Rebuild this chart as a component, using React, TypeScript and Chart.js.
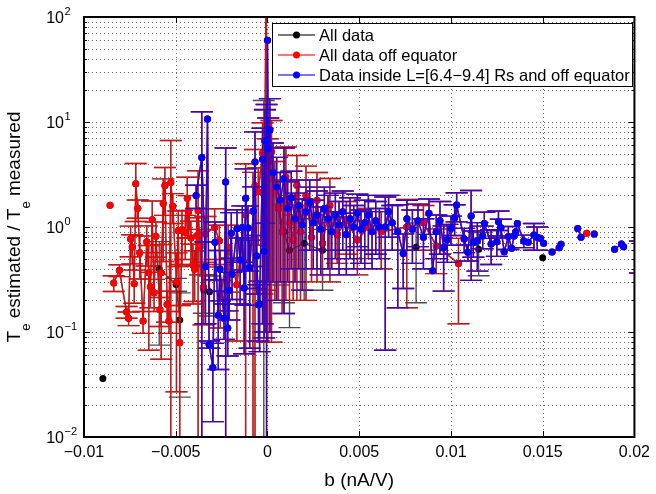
import React, { useEffect, useRef } from "react";
import { Chart, registerables } from "chart.js";

Chart.register(...registerables);

const FONT = '"Liberation Sans", Arial, Helvetica, sans-serif';

// ---------- axes / text ----------
const X_TICKS = [-0.01, -0.005, 0, 0.005, 0.01, 0.015, 0.02];
const X_TICK_LABELS = ["\u22120.01", "\u22120.005", "0", "0.005", "0.01", "0.015", "0.02"];
const Y_DECADES = [-2, -1, 0, 1, 2];
const Y_EXPONENT_LABELS = ["\u22122", "\u22121", "0", "1", "2"];
const X_TITLE = "b (nA/V)";
const Y_TITLE_PARTS: [string, boolean][] = [
  ["T", false], ["e", true], [" estimated / T", false], ["e", true], [" measured", false],
];
const SERIES_NAMES = ["All data", "All data off equator", "Data inside L=[6.4\u22129.4] Rs and off equator"];

// ---------- data (null = line break) ----------
// Blue: inside L=[6.4-9.4] Rs and off equator
const BLUE_X = [
  -0.00389, -0.00358, -0.00338, -0.00327, -0.00318, -0.00298, -0.00286, -0.00268, -0.00259, -0.00237,
  -0.00228, -0.00217, -0.00208, -0.00197, -0.00193, -0.00166, -0.00149, -0.00137, -0.00127, -0.00119,
  -0.00106, -0.00097, -0.00077, -0.00068, -0.00059, -0.00049, -0.00043, -0.00027, -0.00018, -0.00014,
  -0.00005, 0.0, 0.00004, 0.00013,
  0.0003, 0.0005, 0.0007, 0.0009, 0.0011, 0.0013, 0.0015, 0.0017, 0.0019, 0.0021, 0.0023, 0.0025,
  0.0027, 0.0029, 0.0031, 0.0033, 0.0035, 0.0037, 0.0039, 0.0041, 0.0043, 0.0045, 0.0047, 0.0049,
  0.0051, 0.0053, 0.0055, 0.0057, 0.0059, 0.0061, 0.00642, 0.0066, 0.0068, 0.0071, 0.0074, 0.0076,
  0.0079, 0.0082, 0.0085, 0.0088, 0.009, 0.0092, 0.0094, 0.0096, 0.0098, 0.01, 0.0102, 0.01031,
  0.01072, 0.01092, 0.0111, 0.01122, 0.01144, 0.01173, 0.01182, 0.01219, 0.0125, 0.01259, 0.01272,
  0.0129, 0.01313, 0.01331, 0.01344, 0.01353, 0.01362, 0.01397, 0.01421, 0.01452, 0.0147, 0.01488,
  0.01505, null, 0.01551, 0.0159, 0.016, null, 0.01691, 0.01709, null, 0.01781, null, 0.01892,
  0.01929, 0.01941, null, 0.0203,
];
const BLUE_Y = [
  2.0, 4.6, 0.42, 10.7, 0.076, 0.046, 0.715, 0.144, 0.398, 0.135,
  2.68, 0.109, 0.25, 0.87, 0.354, 0.96, 0.485, 0.99, 0.262, 1.88,
  0.98, 0.41, 1.42, 4.16, 0.53, 0.182, 0.185, 4.42, 0.588, 6.6,
  6.7, 60, 5.6, 8.4,
  3.3, 2.4, 1.8, 2.9, 1.5, 1.9, 1.2, 1.6, 1.05, 1.4, 1.7, 1.1,
  1.3, 0.95, 1.5, 1.2, 0.9, 1.3, 1.05, 1.4, 0.85, 1.2, 1.0, 1.35,
  0.95, 1.1, 1.3, 0.9, 1.15, 1.0, 1.0, 1.4, 1.1, 0.9, 0.56, 1.2,
  0.95, 1.15, 0.8, 1.35, 0.383, 0.9, 1.15, 0.635, 0.76, 0.97, 1.23, 1.62,
  0.77, 0.574, 1.27, 0.715, 0.74, 0.82, 1.08, 0.69, 0.725, 1.12, 0.985,
  0.582, 0.81, 0.627, 0.82, 0.9, 1.08, 0.736, 0.715, 0.84, 0.8, 0.78,
  0.7, null, 0.578, 0.635, 0.684, null, 0.97, 0.8, null, 0.86, null, 0.613,
  0.69, 0.65, null, 0.55,
];
const BLUE_ERR = [
  0.5, 7.9, 0.3, 0, 0.006, 0.032, 0.4, 0.1, 0.2, 0.05,
  2.97, 0.05, 0.12, 0.5, 0.15, 0.5, 0.3, 0.6, 0.2, 1.7,
  0.6, 0.34, 1.0, 3.9, 0.3, 0.1, 0.12, 4.3, 0.5, 6.5,
  8.0, 0, 5.3, 8.3,
  3.0, 2.2, 1.5, 2.75, 1.2, 1.5, 0.9, 1.2, 0.8, 1.0, 1.1, 0.7,
  0.9, 0.6, 0.9, 0.8, 0.5, 0.8, 0.7, 0.8, 0.5, 0.7, 0.6, 0.7,
  0.5, 0.7, 0.7, 0.5, 0.6, 0.5, 0.933, 0.6, 0.5, 0.73, 0.3, 0.6,
  0.5, 0.5, 0.4, 0.5, 0, 0.4, 0.6, 0.39, 0.3, 0.3, 0.4, 0.5,
  0.2, 0.1, 0.96, 0.2, 0.36, 0.2, 0.3, 0.25, 0.2, 0.3, 0.2,
  0, 0.2, 0, 0, 0, 0, 0.1, 0, 0.24, 0.2, 0,
  0, null, 0, 0, 0, null, 0, 0, null, 0, null, 0,
  0, 0, null, 0.185,
];

// Red: all data off equator (own points; blue points are also part of it)
const RED_X = [
  -0.00858, null,
  -0.00838, -0.00807, -0.00768, -0.00757, -0.00746, -0.00737, -0.00726, -0.00718, -0.00707, -0.00696,
  -0.00678, -0.00658, -0.00647, -0.00638, -0.00628, -0.00618, -0.00608, -0.00586, -0.00579, -0.00568,
  -0.00559, -0.00547, -0.00537, -0.00527, -0.00516, -0.00496, -0.00486, -0.00478, -0.00466, -0.00448,
  -0.00437, -0.0043, -0.00417, -0.00406, -0.00397, -0.00386, -0.00378, -0.00367, -0.00349, -0.00338,
  -0.00288, -0.00262, -0.00257, -0.00214, -0.00167, -0.00119, -0.00079, -0.00068, -0.0005, -0.00027,
  -0.00014, -0.00008, 0.00002, 0.00022, 0.0004, 0.0006, 0.0008, 0.001, 0.0012, 0.0014, 0.0016,
  0.0018, 0.0021, 0.0024, 0.0027, 0.003, 0.0034, 0.0038, 0.0043, 0.0049, 0.0055, 0.0062, 0.00759,
  0.0085, 0.0092, 0.01041, null, 0.0174,
];
const RED_Y = [
  1.61, null,
  0.293, 0.387, 0.155, 0.135, 0.77, 0.645, 0.288, 2.58, 1.51, 0.57,
  0.127, 0.725, 0.367, 0.27, 1.17, 0.237, 0.815, 0.163, 0.367, 1.67,
  2.49, 0.184, 0.127, 2.66, 1.58, 0.297, 0.92, 0.079, 0.94, 0.89,
  1.88, 1.39, 0.786, 0.435, 0.395, 0.826, 1.43, 0.65, 0.267, 0.86,
  0.99, 0.74, 0.209, 0.64, 0.282, 1.3, 1.41, 2.47, 2.17, 5.03,
  6.7, 200, 3.5, 5.2, 2.2, 1.5, 0.9, 3.0, 1.1, 0.75, 2.5,
  0.9, 2.0, 0.8, 1.8, 0.7, 1.6, 0.85, 1.15, 0.75, 1.0, 0.9, 1.0,
  1.1, 0.66, 0.45, null, 0.87,
];
const RED_ERR = [
  0, null,
  0.05, 0.05, 0.02, 0.02, 0.25, 0.2, 0.1, 1.45, 0.3, 0.25,
  0.03, 0.3, 0.3, 0.1, 0.6, 0.08, 0.3, 0.05, 0.312, 1.2,
  1.2, 0.06, 0.03, 4.0, 0.5, 0.27, 0.5, 0.1, 0.5, 0.4,
  1.1, 0.6, 0.35, 0.25, 0.2, 0.4, 2.0, 0.3, 0.15, 0.4,
  0.5, 0.3, 0.1, 0.4, 0.2, 2.7, 1.9, 3.0, 1.5, 4.8,
  6.45, 0, 3.42, 5.12, 2.0, 1.3, 0.75, 2.8, 0.9, 0.55, 2.3,
  0.7, 1.8, 0.5, 1.5, 0.4, 1.3, 0.4, 0.6, 0.4, 0.5, 0.5, 0.83,
  0.5, 0.3, 0.33, null, 0,
];

// Black: all data (own equatorial points; red and blue points are also part of it)
const BLACK_X = [
  -0.00897, null, -0.0059, -0.00498, -0.00478, null, -0.00347, -0.00316, null,
  -0.0002, 0.00004, 0.0006, 0.0009, 0.0012, 0.002, 0.003, null, 0.0081, null, 0.01151, null, 0.015,
];
const BLACK_Y = [
  0.036, null, 0.4, 0.284, 0.13, null, 0.251, 0.242, null,
  5.0, 4.18, 1.5, 0.9, 0.6, 0.7, 0.6, null, 0.64, null, 0.613, null, 0.51,
];
const BLACK_ERR = [
  0, null, 0.325, 0.04, 0.106, null, 0.1, 0.1, null,
  11.0, 0, 1.22, 0.71, 0.49, 0.5, 0.35, null, 0.45, null, 0.27, null, 0,
];

// ---------- styles ----------
const LINE_COLORS = ["rgba(0,0,0,0.7)", "rgba(255,0,0,0.72)", "rgba(0,0,255,0.72)"];
const MARKER_COLORS = ["#000000", "#ff0000", "#0000ff"];
const LINE_W = 1.4;
const CAP_HALF = 11;
const MARKER_R = 3.5;

type Pt = { x: number; y: number | null; e: number };

function toPoints(xs: (number | null)[], ys: (number | null)[], es: (number | null)[]): Pt[] {
  const out: Pt[] = [];
  let lastX = 0;
  xs.forEach((x, i) => {
    if (x === null || ys[i] === null) {
      out.push({ x: lastX, y: null, e: 0 });
    } else {
      lastX = x;
      out.push({ x, y: ys[i] as number, e: (es[i] as number) || 0 });
    }
  });
  return out;
}

const gridPlugin = {
  id: "matlabGrid",
  beforeDatasetsDraw(chart: any) {
    const { ctx, chartArea: a, scales } = chart;
    const xs = scales.x, ys = scales.y;
    ctx.save();
    ctx.strokeStyle = "#6a6a6a";
    ctx.lineWidth = 1;
    ctx.setLineDash([1, 3]);
    ctx.beginPath();
    X_TICKS.forEach((v) => {
      const px = Math.round(xs.getPixelForValue(v)) + 0.5;
      ctx.moveTo(px, a.top);
      ctx.lineTo(px, a.bottom);
    });
    Y_DECADES.forEach((d) => {
      for (let m = 1; m <= 9; m++) {
        const v = m * Math.pow(10, d);
        if (v > 100.0001) continue;
        const py = Math.round(ys.getPixelForValue(v)) + 0.5;
        ctx.moveTo(a.left, py);
        ctx.lineTo(a.right, py);
      }
    });
    ctx.stroke();
    ctx.restore();
  },
};

const errorBarPlugin = {
  id: "errorBars",
  beforeDatasetDraw(chart: any, args: any) {
    const ds = chart.data.datasets[args.index];
    const { ctx, chartArea: a, scales } = chart;
    const xs = scales.x, ys = scales.y;
    ctx.save();
    ctx.beginPath();
    ctx.rect(a.left, a.top, a.right - a.left, a.bottom - a.top);
    ctx.clip();
    ctx.strokeStyle = ds.borderColor;
    ctx.lineWidth = LINE_W;
    ctx.beginPath();
    (ds.data as Pt[]).forEach((p) => {
      if (p.y === null || !p.e) return;
      const px = xs.getPixelForValue(p.x);
      const hiV = p.y + p.e;
      const loV = p.y - p.e;
      const hi = ys.getPixelForValue(hiV);
      const lo = loV > 0 ? ys.getPixelForValue(loV) : a.bottom + 20;
      ctx.moveTo(px, hi);
      ctx.lineTo(px, lo);
      ctx.moveTo(px - CAP_HALF, hi);
      ctx.lineTo(px + CAP_HALF, hi);
      if (loV > 0) {
        ctx.moveTo(px - CAP_HALF, lo);
        ctx.lineTo(px + CAP_HALF, lo);
      }
    });
    ctx.stroke();
    ctx.restore();
  },
};

const framePlugin = {
  id: "matlabFrame",
  afterDraw(chart: any) {
    const { ctx, chartArea: a, scales } = chart;
    const xs = scales.x, ys = scales.y;
    ctx.save();
    // ticks inside
    ctx.strokeStyle = "#000";
    ctx.lineWidth = 1;
    ctx.beginPath();
    X_TICKS.forEach((v) => {
      const px = Math.round(xs.getPixelForValue(v)) + 0.5;
      ctx.moveTo(px, a.bottom);
      ctx.lineTo(px, a.bottom - 6);
      ctx.moveTo(px, a.top);
      ctx.lineTo(px, a.top + 6);
    });
    Y_DECADES.forEach((d) => {
      for (let m = 1; m <= 9; m++) {
        const v = m * Math.pow(10, d);
        if (v > 100.0001) continue;
        const len = m === 1 ? 6 : 3;
        const py = Math.round(ys.getPixelForValue(v)) + 0.5;
        ctx.moveTo(a.left, py);
        ctx.lineTo(a.left + len, py);
        ctx.moveTo(a.right, py);
        ctx.lineTo(a.right - len, py);
      }
    });
    ctx.stroke();
    // box
    ctx.lineWidth = 2;
    ctx.strokeRect(a.left, a.top, a.right - a.left, a.bottom - a.top);

    // y tick labels 10^n
    ctx.fillStyle = "#000";
    Y_DECADES.forEach((d, i) => {
      const py = ys.getPixelForValue(Math.pow(10, d));
      ctx.font = `16px ${FONT}`;
      ctx.textAlign = "right";
      ctx.textBaseline = "alphabetic";
      ctx.fillText("10", 64, py + 6);
      ctx.font = `11px ${FONT}`;
      ctx.textAlign = "left";
      ctx.fillText(Y_EXPONENT_LABELS[i], 64.5, py - 2);
    });

    // y title with subscripts
    ctx.save();
    ctx.translate(20, (a.top + a.bottom) / 2);
    ctx.rotate(-Math.PI / 2);
    const mainF = `19px ${FONT}`;
    const subF = `13px ${FONT}`;
    let total = 0;
    Y_TITLE_PARTS.forEach(([t, sub]) => {
      ctx.font = sub ? subF : mainF;
      total += ctx.measureText(t).width;
    });
    let cx = -total / 2;
    ctx.textAlign = "left";
    ctx.textBaseline = "alphabetic";
    Y_TITLE_PARTS.forEach(([t, sub]) => {
      ctx.font = sub ? subF : mainF;
      ctx.fillText(t, cx, sub ? 10 : 0);
      cx += ctx.measureText(t).width;
    });
    ctx.restore();

    // legend
    const L = 272, R = 633, T = 23, B = 87;
    ctx.fillStyle = "#fff";
    ctx.fillRect(L, T, R - L, B - T);
    ctx.lineWidth = 1;
    ctx.strokeStyle = "#000";
    ctx.strokeRect(L + 0.5, T + 0.5, R - L - 1, B - T - 1);
    SERIES_NAMES.forEach((name, i) => {
      const cy = 35 + i * 20;
      ctx.strokeStyle = LINE_COLORS[i];
      ctx.lineWidth = LINE_W;
      ctx.beginPath();
      ctx.moveTo(278, cy);
      ctx.lineTo(315, cy);
      ctx.stroke();
      ctx.fillStyle = MARKER_COLORS[i];
      ctx.beginPath();
      ctx.arc(296.5, cy, MARKER_R, 0, Math.PI * 2);
      ctx.fill();
      ctx.fillStyle = "#000";
      ctx.font = `16.5px ${FONT}`;
      ctx.textAlign = "left";
      ctx.textBaseline = "middle";
      ctx.fillText(name, 319, cy + 1);
    });
    ctx.restore();
  },
};

export default function App() {
  const ref = useRef<HTMLCanvasElement | null>(null);

  useEffect(() => {
    if (!ref.current) return;
    const blue = toPoints(BLUE_X, BLUE_Y, BLUE_ERR);
    const red = toPoints(RED_X, RED_Y, RED_ERR);
    const black = toPoints(BLACK_X, BLACK_Y, BLACK_ERR);
    const gap = (arr: Pt[]): Pt => ({ x: arr[arr.length - 1].x, y: null, e: 0 });

    const blackData = [...black, gap(black), ...red, gap(red), ...blue];
    const redData = [...red, gap(red), ...blue];
    const blueData = [...blue];

    const mk = (i: number, data: Pt[], order: number) => ({
      label: SERIES_NAMES[i],
      data,
      showLine: true,
      spanGaps: false,
      borderColor: LINE_COLORS[i],
      borderWidth: LINE_W,
      backgroundColor: MARKER_COLORS[i],
      pointBackgroundColor: MARKER_COLORS[i],
      pointBorderWidth: 0,
      pointRadius: MARKER_R,
      pointHoverRadius: MARKER_R,
      tension: 0,
      clip: 0,
      order,
    });

    const chart = new Chart(ref.current, {
      type: "scatter",
      data: {
        datasets: [mk(0, blackData, 2), mk(1, redData, 1), mk(2, blueData, 0)] as any,
      },
      options: {
        animation: false,
        responsive: false,
        devicePixelRatio: 1,
        events: [],
        layout: { padding: { left: 0, right: 16, top: 17, bottom: 0 } },
        plugins: { legend: { display: false }, tooltip: { enabled: false }, title: { display: false } },
        scales: {
          x: {
            type: "linear",
            min: -0.01,
            max: 0.02,
            afterBuildTicks: (s: any) => {
              s.ticks = X_TICKS.map((v) => ({ value: v }));
            },
            afterFit: (s: any) => {
              s.height = 57;
            },
            grid: { display: false, drawTicks: false },
            border: { display: false },
            ticks: {
              autoSkip: false,
              maxRotation: 0,
              padding: 6,
              color: "#000",
              font: { family: FONT, size: 16 },
              callback: (_v: any, i: number) => X_TICK_LABELS[i],
            },
            title: {
              display: true,
              text: X_TITLE,
              color: "#000",
              font: { family: FONT, size: 19 },
              padding: { top: 0, bottom: 2 },
            },
          },
          y: {
            type: "logarithmic",
            min: 0.01,
            max: 100,
            afterBuildTicks: (s: any) => {
              s.ticks = Y_DECADES.map((d) => ({ value: Math.pow(10, d) }));
            },
            afterFit: (s: any) => {
              s.width = 84;
            },
            grid: { display: false, drawTicks: false },
            border: { display: false },
            ticks: { display: false },
          },
        },
      } as any,
      plugins: [gridPlugin, errorBarPlugin, framePlugin],
    });
    return () => chart.destroy();
  }, []);

  return (
    <div style={{ position: "fixed", left: 0, top: 0, width: 656, height: 494, background: "#fff" }}>
      <canvas ref={ref} width={656} height={494} style={{ display: "block" }} />
    </div>
  );
}
